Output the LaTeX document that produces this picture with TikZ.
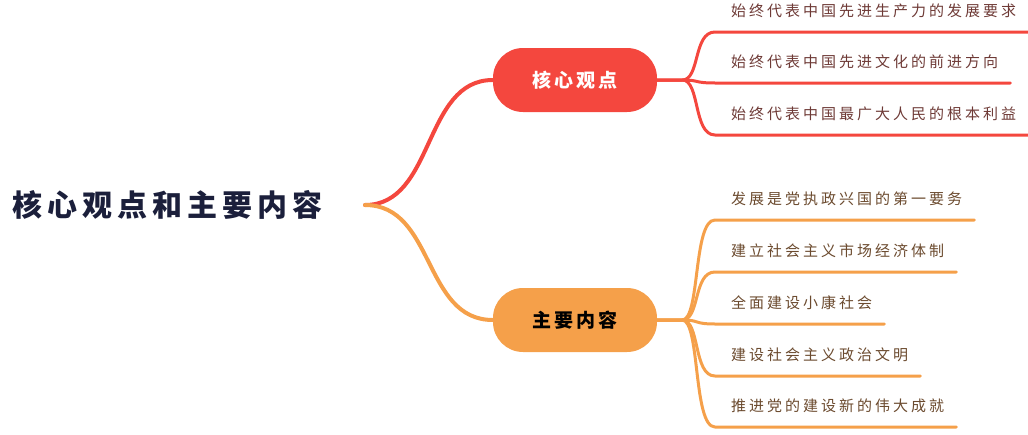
\documentclass[tikz,border=0pt]{standalone}
\usepackage{fontspec}
\setmainfont{Noto Sans CJK SC}[LetterSpace=20]
\newfontfamily\widecjk{Noto Sans CJK SC}[LetterSpace=17]
\definecolor{corered}{HTML}{F4473E}
\definecolor{mainorange}{HTML}{F5A04A}
\definecolor{rootink}{HTML}{1B1F3B}
\definecolor{redink}{HTML}{6E3A36}
\definecolor{orangeink}{HTML}{6B4A2E}

\begin{document}
\begin{tikzpicture}[x=1pt, y=-1pt,
  rootnode/.style={inner sep=0pt, text=rootink, font=\widecjk\fontsize{30}{32}\selectfont\bfseries},
  topic/.style={rounded corners=30pt, minimum width=164pt, minimum height=64pt, font=\widecjk\fontsize{19}{21}\selectfont\bfseries},
  leaf/.style={anchor=south west, inner xsep=16pt, inner ysep=11pt, text height=12pt, text depth=4pt, font=\fontsize{15}{17}\selectfont},
  link/.style={line width=4pt, line cap=round},
  twig/.style={line width=3pt, line cap=round}]
\useasboundingbox (0,0) rectangle (1028,434);
% root
\node[rootnode, anchor=west] (root) at (12,205) {核心观点和主要内容};
\coordinate (hub) at (365,205);
% two topics
\node[topic, fill=corered, text=white] (core) at (575,80) {核心观点};
\node[topic, fill=mainorange, text=black] (content) at (575,320) {主要内容};
\draw[link, corered] (hub) .. controls +(70,0) and +(-70,0) .. (core.west);
\draw[link, mainorange] (hub) .. controls +(70,0) and +(-70,0) .. (content.west);
% core leaves
\node[leaf, text=redink] (c1) at (715,32) {始终代表中国先进生产力的发展要求};
\node[leaf, text=redink] (c2) at (715,83) {始终代表中国先进文化的前进方向};
\node[leaf, text=redink] (c3) at (715,135) {始终代表中国最广大人民的根本利益};
\foreach \n in {c1,c2,c3}
  \draw[twig, corered] (core.east) -- ++(25,0) .. controls +(18,0) and +(-22,0) .. (\n.south west) -- ([xshift=-4pt]\n.south east);
% content leaves
\node[leaf, text=orangeink] (m1) at (715,220) {发展是党执政兴国的第一要务};
\node[leaf, text=orangeink] (m2) at (715,272) {建立社会主义市场经济体制};
\node[leaf, text=orangeink] (m3) at (715,324) {全面建设小康社会};
\node[leaf, text=orangeink] (m4) at (715,376) {建设社会主义政治文明};
\node[leaf, text=orangeink] (m5) at (715,427) {推进党的建设新的伟大成就};
\foreach \n in {m1,m2,m3,m4,m5}
  \draw[twig, mainorange] (content.east) -- ++(25,0) .. controls +(18,0) and +(-22,0) .. (\n.south west) -- ([xshift=-4pt]\n.south east);
\end{tikzpicture}
\end{document}
